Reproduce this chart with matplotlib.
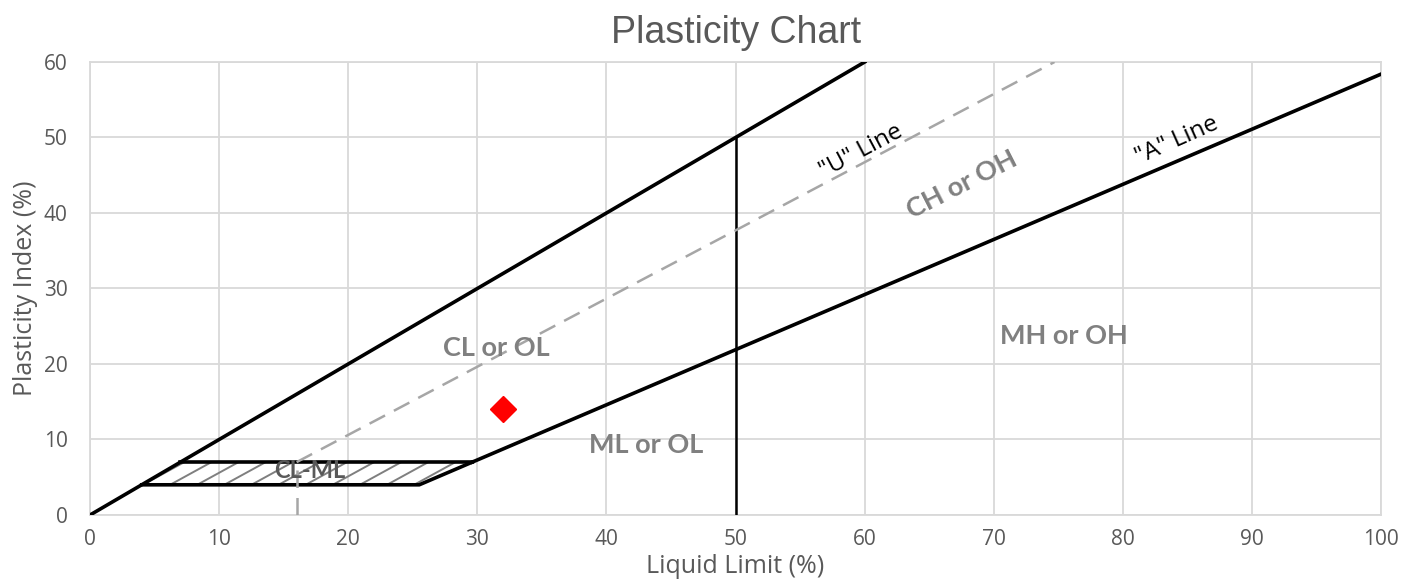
import numpy as np
import matplotlib
import matplotlib.pyplot as plt
from matplotlib.patches import Polygon

matplotlib.use("agg")

# chart values
upper_ll = [0, 60]
upper_pi = [0, 60]
ll50_x = [50, 50]
ll50_y = [0, 50]
a_line_ll = [29.6, 100]
a_line_pi = [7, 58.4]
u_line_ll = [16, 74.7]
u_line_pi = [7, 60]
u_stub_ll = [16, 16]
u_stub_pi = [0, 7]
clml_ll = [4, 7, 29.6, 25.5]
clml_pi = [4, 7, 7, 4]
sample_ll = [32]
sample_pi = [14]

region_labels = ["CL or OL", "ML or OL", "MH or OH", "CH or OH"]
region_x = [31.5, 43.1, 75.4, 67.5]
region_y = [22.1, 9.3, 23.7, 43.7]
region_rot = [0, 0, 0, 27]

x_ticks = [0, 10, 20, 30, 40, 50, 60, 70, 80, 90, 100]
y_ticks = [0, 10, 20, 30, 40, 50, 60]

grid_col = "#d9d9d9"
text_col = "#595959"
label_col = "#808080"

fig = plt.figure(figsize=(14.18, 5.81), dpi=100)
ax = fig.add_axes([0.0635, 0.1136, 0.9105, 0.7797])

ax.set_xlim(0, 100)
ax.set_ylim(0, 60)
ax.set_xticks(x_ticks)
ax.set_yticks(y_ticks)
ax.grid(True, color=grid_col, linewidth=1.3, zorder=0)
ax.set_axisbelow(True)
for s in ax.spines.values():
    s.set_color(grid_col)
    s.set_linewidth(1.3)
ax.tick_params(length=0, labelsize=15, labelcolor=text_col)
ax.tick_params(axis="y", pad=16)
ax.tick_params(axis="x", pad=10)
for lab in ax.get_xticklabels() + ax.get_yticklabels():
    lab.set_family("Open Sans")

# CL-ML band with manual diagonal hatching
band = Polygon(list(zip(clml_ll, clml_pi)), closed=True, facecolor="none",
               edgecolor="none", zorder=2)
ax.add_patch(band)
for x0 in np.arange(2, 32, 2.1):
    ln, = ax.plot([x0, x0 + 3.2], [4, 7], color="#7f7f7f", linewidth=1.4,
                  zorder=2, solid_capstyle="butt")
    ln.set_clip_path(band)
ax.plot([clml_ll[0], clml_ll[3], clml_ll[2]], [clml_pi[0], clml_pi[3], clml_pi[2]],
        color="black", linewidth=2.6, zorder=3)
ax.plot([clml_ll[1], clml_ll[2]], [clml_pi[1], clml_pi[2]],
        color="black", linewidth=2.6, zorder=3)

ax.plot(upper_ll, upper_pi, color="black", linewidth=2.6, zorder=3)
ax.plot(ll50_x, ll50_y, color="black", linewidth=1.8, zorder=3)
ax.plot(a_line_ll, a_line_pi, color="black", linewidth=2.6, zorder=3)
ax.plot(u_line_ll, u_line_pi, color="#a6a6a6", linewidth=1.8,
        dashes=(7, 4), zorder=3)
ax.plot(u_stub_ll, u_stub_pi, color="#a6a6a6", linewidth=1.8,
        dashes=(7, 4), zorder=3)

ax.plot(sample_ll, sample_pi, linestyle="none", marker="D", markersize=13,
        color="red", zorder=5)

for t, x, y, r in zip(region_labels, region_x, region_y, region_rot):
    ax.text(x, y, t, ha="center", va="center", rotation=r, fontsize=19.5,
            fontweight="bold", color=label_col, family="Lato", zorder=4)
ax.text(17, 5.9, "CL-ML", ha="center", va="center", fontsize=17,
        fontweight="bold", color=text_col, family="Lato", zorder=4)

ax.text(59.7, 48.2, '"U" Line', ha="center", va="center", rotation=28,
        fontsize=17.5, color="black", family="Open Sans", zorder=4)
ax.text(84.2, 49.6, '"A" Line', ha="center", va="center", rotation=24,
        fontsize=17.5, color="black", family="Open Sans", zorder=4)

ax.set_title("Plasticity Chart", fontsize=27, color=text_col,
             family="Liberation Sans", pad=14)
ax.set_xlabel("Liquid Limit (%)", fontsize=18, color=text_col,
              family="Open Sans", labelpad=3)
ax.set_ylabel("Plasticity Index (%)", fontsize=18, color=text_col,
              family="Open Sans", labelpad=4)

fig.savefig("out.png", dpi=100)
